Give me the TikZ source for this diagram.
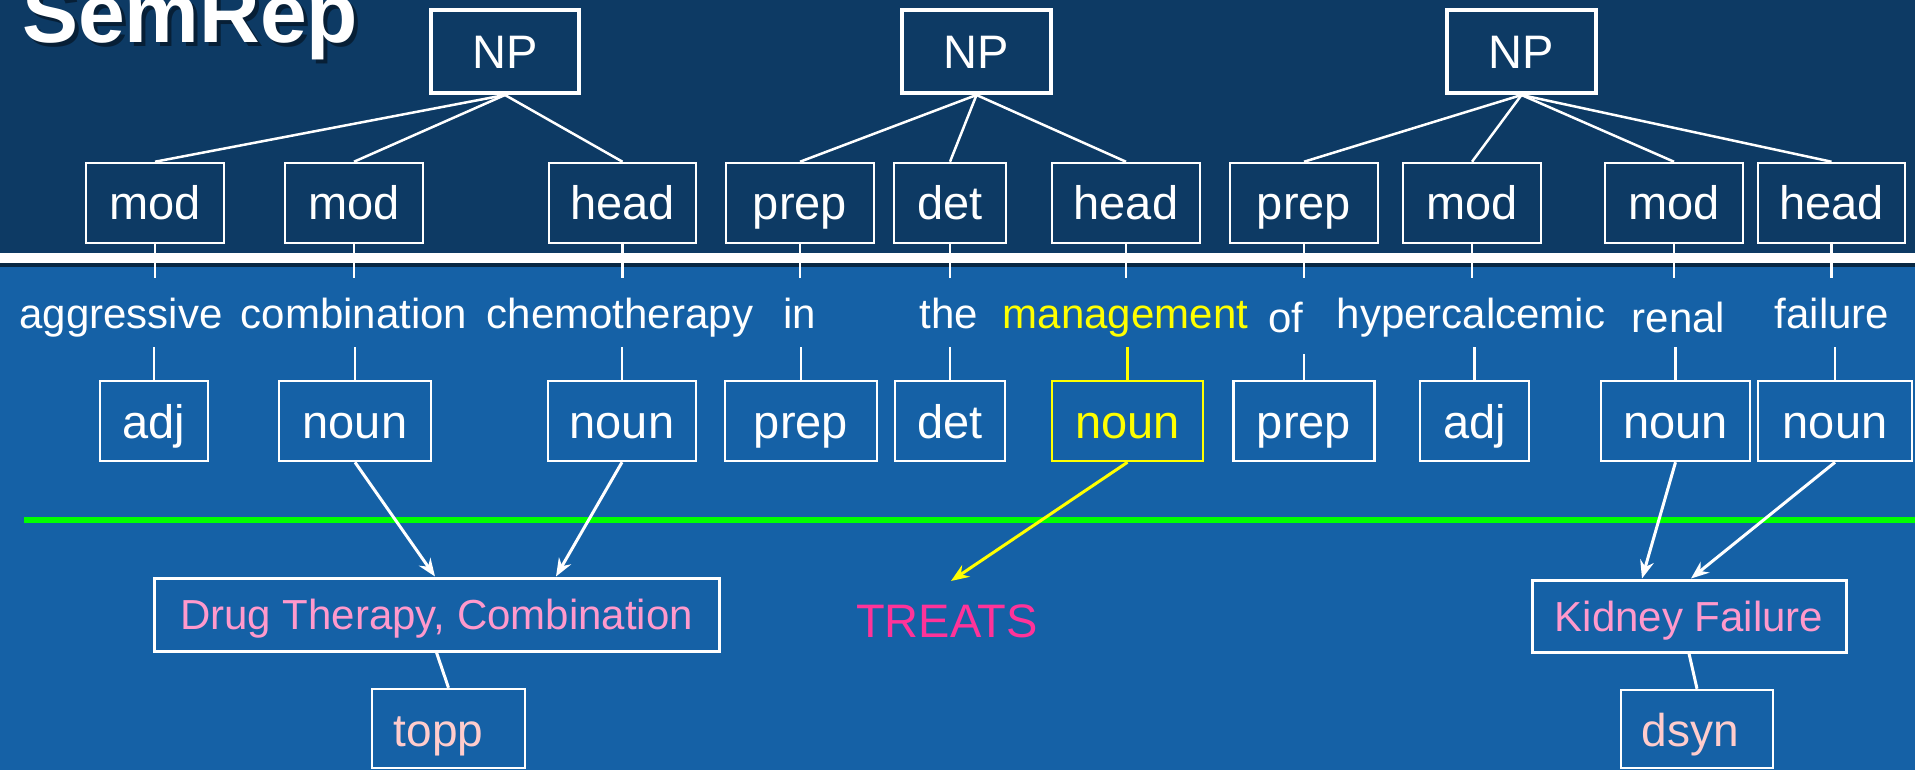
\documentclass[tikz,border=0pt]{standalone}
\usepackage{fontspec}
\setmainfont{Liberation Sans}
\usetikzlibrary{arrows.meta}
\definecolor{topbg}{RGB}{13,58,100}
\definecolor{lowbg}{RGB}{21,97,166}
\definecolor{hl}{RGB}{255,255,0}
\definecolor{conceptpink}{RGB}{255,153,204}
\definecolor{typepink}{RGB}{255,204,204}
\definecolor{relpink}{RGB}{255,51,153}
\definecolor{sepgreen}{RGB}{0,255,0}
\begin{document}
\begin{tikzpicture}[x=1pt,y=-1pt,
 lbl/.style={draw=white, line width=2.5pt, text=white, inner sep=0pt, font=\fontsize{47}{56}\selectfont, text height=34pt, text depth=0pt, minimum height=80pt},
 npbox/.style={lbl, line width=4pt, minimum height=83pt},
 word/.style={text=white, inner sep=0pt, anchor=base, font=\fontsize{42}{50}\selectfont},
 tree/.style={white, line width=2.5pt},
 tick/.style={white, line width=2.5pt},
 arr/.style={white, line width=3pt, -{Stealth[length=18pt,width=14pt,inset=6pt]}},
 concept/.style={draw=white, line width=3pt, text=conceptpink, inner sep=0pt, font=\fontsize{42}{50}\selectfont, text height=30pt, text depth=0pt},
 stype/.style={draw=white, line width=2.5pt, text=typepink, inner sep=0pt, font=\fontsize{46}{55}\selectfont, text height=35pt, text depth=0pt},
]
\useasboundingbox (0,0) rectangle (1915,770);
\clip (0,0) rectangle (1915,770);
% backgrounds
\fill[lowbg] (0,0) rectangle (1915,770);
\fill[topbg] (0,0) rectangle (1915,253);
\fill[black!60!lowbg] (0,263) rectangle (1915,267);
\fill[white] (0,253) rectangle (1915,263);
% title
\node[anchor=base west, inner sep=0pt, text=black, opacity=0.45, font=\fontsize{84}{90}\selectfont\bfseries] at (26,47) {SemRep};
\node[anchor=base west, inner sep=0pt, text=white, font=\fontsize{84}{90}\selectfont\bfseries] (title) at (22,43) {SemRep};
% NP boxes
\node[npbox, minimum width=148pt] (np1) at (505,51.5) {NP};
\node[npbox, minimum width=149pt] (np2) at (976.5,51.5) {NP};
\node[npbox, minimum width=149pt] (np3) at (1521.5,51.5) {NP};
% tag boxes
\node[lbl, minimum width=138pt] (t1) at (155,203) {mod};
\node[lbl, minimum width=138pt] (t2) at (354,203) {mod};
\node[lbl, minimum width=147pt] (t3) at (622.5,203) {head};
\node[lbl, minimum width=148pt] (t4) at (800,203) {prep};
\node[lbl, minimum width=112pt] (t5) at (950,203) {det};
\node[lbl, minimum width=148pt] (t6) at (1126,203) {head};
\node[lbl, minimum width=148pt] (t7) at (1304,203) {prep};
\node[lbl, minimum width=138pt] (t8) at (1472,203) {mod};
\node[lbl, minimum width=138pt] (t9) at (1674,203) {mod};
\node[lbl, minimum width=147pt] (t10) at (1831.5,203) {head};
% tree lines
\foreach \c in {t1,t2,t3} \draw[tree] (np1.south) -- (\c.north);
\foreach \c in {t4,t5,t6} \draw[tree] (np2.south) -- (\c.north);
\foreach \c in {t7,t8,t9,t10} \draw[tree] (np3.south) -- (\c.north);
% ticks below tags
\foreach \c in {t1,t2,t3,t4,t5,t6,t7,t8,t9,t10} \draw[tick] (\c.south) -- ++(0,34);
% words
\node[word] (w1) at (121,328) {aggressive};
\node[word] (w2) at (354,328) {combination};
\node[word] (w3) at (620,328) {chemotherapy};
\node[word] (w4) at (800,328) {in};
\node[word] (w5) at (949,328) {the};
\node[word, text=hl] (w6) at (1125.5,328) {management};
\node[word] (w7) at (1286,332) {of};
\node[word] (w8) at (1471,328) {hypercalcemic};
\node[word] (w9) at (1678.5,332) {renal};
\node[word] (w10) at (1832,328) {failure};
% POS boxes
\node[lbl, minimum width=108pt] (p1) at (154,421) {adj};
\node[lbl, minimum width=152pt] (p2) at (355,421) {noun};
\node[lbl, minimum width=148pt] (p3) at (622,421) {noun};
\node[lbl, minimum width=152pt] (p4) at (801,421) {prep};
\node[lbl, minimum width=110pt] (p5) at (950,421) {det};
\node[lbl, minimum width=151pt, draw=hl, text=hl] (p6) at (1127.5,421) {noun};
\node[lbl, minimum width=141pt] (p7) at (1304,421) {prep};
\node[lbl, minimum width=109pt] (p8) at (1474.5,421) {adj};
\node[lbl, minimum width=149pt] (p9) at (1675.5,421) {noun};
\node[lbl, minimum width=154pt] (p10) at (1835,421) {noun};
% ticks above POS
\foreach \c in {p1,p2,p3,p4,p5,p8,p9,p10} \draw[tick] (\c.north) -- ++(0,-33);
\draw[tick] (p7.north) -- ++(0,-26);
\draw[tick, hl] (p6.north) -- ++(0,-33);
% separator
\draw[sepgreen, line width=6pt] (24,520) -- (1915,520);
% concepts
\node[concept, minimum width=565pt, minimum height=73pt] (drug) at (436.5,614.5) {Drug Therapy, Combination};
\node[stype, minimum width=153pt, minimum height=79pt] (topp) at (448.5,728.5) {topp\kern20pt};
\node[anchor=base, inner sep=0pt, text=relpink, font=\fontsize{47}{56}\selectfont] (treats) at (947,637) {TREATS};
\node[concept, minimum width=314pt, minimum height=72pt] (kidney) at (1689,616) {Kidney Failure};
\node[stype, minimum width=152pt, minimum height=78pt] (dsyn) at (1697,729) {dsyn\kern14pt};
% arrows
\draw[arr] (p2.south) -- ([xshift=-1.5pt]drug.north);
\draw[arr] (p3.south) -- ([xshift=119.5pt]drug.north);
\draw[arr, hl] (p6.south) -- ([xshift=4pt,yshift=23pt]treats.north);
\draw[arr] (p9.south) -- ([xshift=-47pt]kidney.north);
\draw[arr] (p10.south) -- ([xshift=2pt]kidney.north);
\draw[tree, line width=3pt] (drug.south) -- (topp.north);
\draw[tree, line width=3pt] (kidney.south) -- (dsyn.north);
\end{tikzpicture}
\end{document}
